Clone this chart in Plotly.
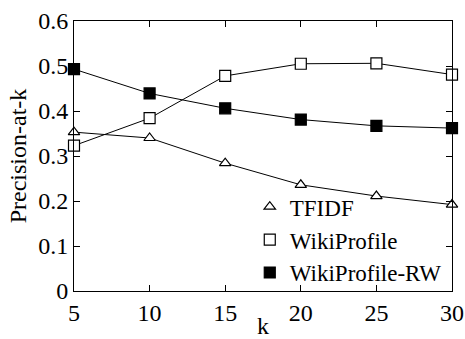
import plotly.graph_objects as go

k = [5, 10, 15, 20, 25, 30]
tfidf = [0.353, 0.340, 0.284, 0.236, 0.211, 0.192]
wikiprofile = [0.323, 0.384, 0.478, 0.505, 0.506, 0.481]
wikiprofile_rw = [0.493, 0.439, 0.406, 0.381, 0.367, 0.362]

x_ticks = [5, 10, 15, 20, 25, 30]
y_ticks = [0, 0.1, 0.2, 0.3, 0.4, 0.5, 0.6]
y_ticktext = ["0", "0.1", "0.2", "0.3", "0.4", "0.5", "0.6"]

series = [
    ("TFIDF", tfidf, "triangle-up", "white", 10),
    ("WikiProfile", wikiprofile, "square", "white", 11),
    ("WikiProfile-RW", wikiprofile_rw, "square", "black", 11),
]

FONT = "Liberation Serif, Times New Roman, serif"

fig = go.Figure()
for name, vals, sym, fill, size in series:
    fig.add_trace(go.Scatter(
        x=k, y=vals, mode="lines+markers", name=name, showlegend=False,
        line=dict(color="black", width=1),
        marker=dict(symbol=sym, size=size, color=fill, line=dict(color="black", width=1.2)),
        cliponaxis=False,
    ))
for name, vals, sym, fill, size in series:
    fig.add_trace(go.Scatter(
        x=[None], y=[None], mode="markers", name=name, showlegend=True,
        marker=dict(symbol=sym, size=size, color=fill, line=dict(color="black", width=1.2)),
    ))

axis_common = dict(
    showline=True, linecolor="black", linewidth=1, mirror="ticks",
    ticks="inside", ticklen=6, tickcolor="black", tickwidth=1,
    showgrid=False, zeroline=False, automargin=False,
    tickfont=dict(family=FONT, size=24, color="black"),
)

fig.update_xaxes(range=[5, 30], tickvals=x_ticks,
                 title=dict(text="k", font=dict(family=FONT, size=24, color="black"), standoff=0),
                 **axis_common)
fig.update_yaxes(range=[0, 0.6], tickvals=y_ticks, ticktext=y_ticktext,
                 title=dict(text="Precision-at-k", font=dict(family=FONT, size=24, color="black"), standoff=4),
                 **axis_common)

fig.update_layout(
    width=465, height=339,
    margin=dict(l=74, r=13, t=21, b=48),
    plot_bgcolor="white", paper_bgcolor="white",
    font=dict(family=FONT, size=24, color="black"),
    legend=dict(x=0.465, y=-0.012, xanchor="left", yanchor="bottom",
                bgcolor="rgba(0,0,0,0)", tracegroupgap=0, itemwidth=30,
                font=dict(family=FONT, size=23, color="black")),
)

fig.write_html("out.html", config={"displayModeBar": False})
with open("out.html", encoding="utf-8") as f:
    html = f.read()
html = html.replace("<body>", '<body style="margin:0;padding:0;">', 1)
with open("out.html", "w", encoding="utf-8") as f:
    f.write(html)
